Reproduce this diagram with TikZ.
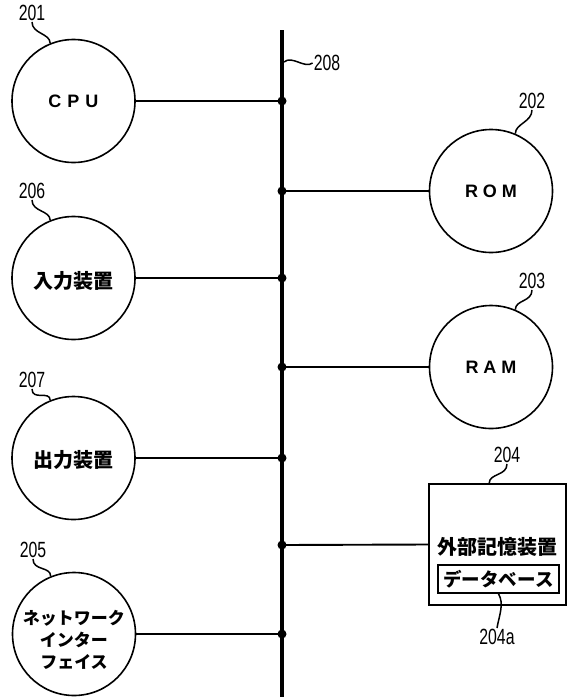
\documentclass[tikz,border=0pt]{standalone}
\usepackage{fontspec}
\setmainfont{Liberation Sans}
\newfontfamily\jp{Noto Sans CJK JP}
\newfontfamily\numf[FakeStretch=0.72]{Liberation Sans}
\usetikzlibrary{calc}
\begin{document}
\begin{tikzpicture}[x=1pt,y=-1pt,
  unit/.style={circle, draw, line width=1.6pt, minimum size=123pt, inner sep=0pt},
  jtext/.style={font=\jp\bfseries\fontsize{20}{20}\selectfont, inner sep=0pt},
  num/.style={font=\numf\fontsize{22}{22}\selectfont, inner sep=1pt},
  lead/.style={line width=1.5pt},
  conn/.style={line width=1.9pt},
  busline/.style={line width=4pt},
  dotc/.style={fill=black}]
\useasboundingbox (0,0) rectangle (568,697);

% bus
\coordinate (bustop) at (282,30);
\coordinate (busbot) at (282,697);
\draw[busline] (bustop) -- (busbot);
\coordinate (t1) at (282,101);
\coordinate (t2) at (282,191);
\coordinate (t3) at (282,278);
\coordinate (t4) at (282,367);
\coordinate (t5) at (282,458);
\coordinate (t6) at (282,545);
\coordinate (t7) at (282,634);
\coordinate (b208) at (284,62);

% units
\node[unit] (cpu) at (73.5,101) {\textbf{\fontsize{18}{18}\selectfont C\hspace{6pt}P\hspace{6pt}U}};
\node[unit] (inp) at (73.5,278) {};
\node[jtext] (inpt) at (73.5,281) {入力装置};
\node[unit] (outp) at (73.5,458) {};
\node[jtext] (outpt) at (73.5,460) {出力装置};
\node[unit] (net) at (74,634) {};
\node[font=\jp\bfseries\fontsize{17}{22}\selectfont, align=center, inner sep=0pt] (nett) at (74,640) {ネットワーク\\インター\\フェイス};
\node[unit] (rom) at (491,191) {\textbf{\fontsize{18}{18}\selectfont R\hspace{5pt}O\hspace{5pt}M}};
\node[unit] (ram) at (491,367) {\textbf{\fontsize{18}{18}\selectfont R\hspace{5pt}A\hspace{5pt}M}};

% external storage
\node[draw, line width=1.6pt, minimum width=137pt, minimum height=121pt, inner sep=0pt] (ext) at (497.5,544.5) {};
\node[jtext] (extt) at (497.5,547) {外部記憶装置};
\node[draw, line width=1.6pt, minimum width=121pt, minimum height=28pt, inner sep=0pt, font=\jp\bfseries\fontsize{18.5}{18.5}\selectfont] (db) at (498.5,579) {データベース};

% connectors
\draw[conn] (cpu.east) -- (t1);
\draw[conn] (t2) -- (rom.west);
\draw[conn] (inp.east) -- (t3);
\draw[conn] (t4) -- (ram.west);
\draw[conn] (outp.east) -- (t5);
\draw[conn] (t6) -- (ext.west);
\draw[conn] (net.east) -- (t7);
\foreach \t in {t1,t2,t3,t4,t5,t6,t7} \fill[dotc] (\t) circle (4.5pt);

% labels
\node[num] (l201) at (32,13) {201};
\node[num] (l206) at (32,191) {206};
\node[num] (l207) at (32,380) {207};
\node[num] (l205) at (33,550) {205};
\node[num] (l202) at (532,101) {202};
\node[num] (l203) at (532,281) {203};
\node[num] (l208) at (327,63) {208};
\node[num] (l204) at (507,455) {204};
\node[num] (l204a) at (497,637) {204a};

\draw[lead] (l201.south) .. controls +(0,12) and +(0,-10) .. (cpu.112);
\draw[lead] (l206.south) .. controls +(0,12) and +(0,-10) .. (inp.112);
\draw[lead] (l207.south) .. controls +(0,12) and +(0,-10) .. (outp.112);
\draw[lead] (l205.south) .. controls +(0,12) and +(0,-10) .. (net.112);
\draw[lead] (l202.south) .. controls +(0,12) and +(0,-10) .. (rom.67);
\draw[lead] (l203.south) .. controls +(0,12) and +(0,-10) .. (ram.67);
\draw[lead] (b208) .. controls +(8,-7) and +(-8,6) .. (l208.west);
\coordinate (e204) at ($(ext.north west)+(61,0)$);
\draw[lead] (l204.south) .. controls +(0,12) and +(0,-10) .. (e204);
\draw[lead] (db.south) .. controls +(6,10) and +(2,-12) .. (l204a.north);
\end{tikzpicture}
\end{document}
